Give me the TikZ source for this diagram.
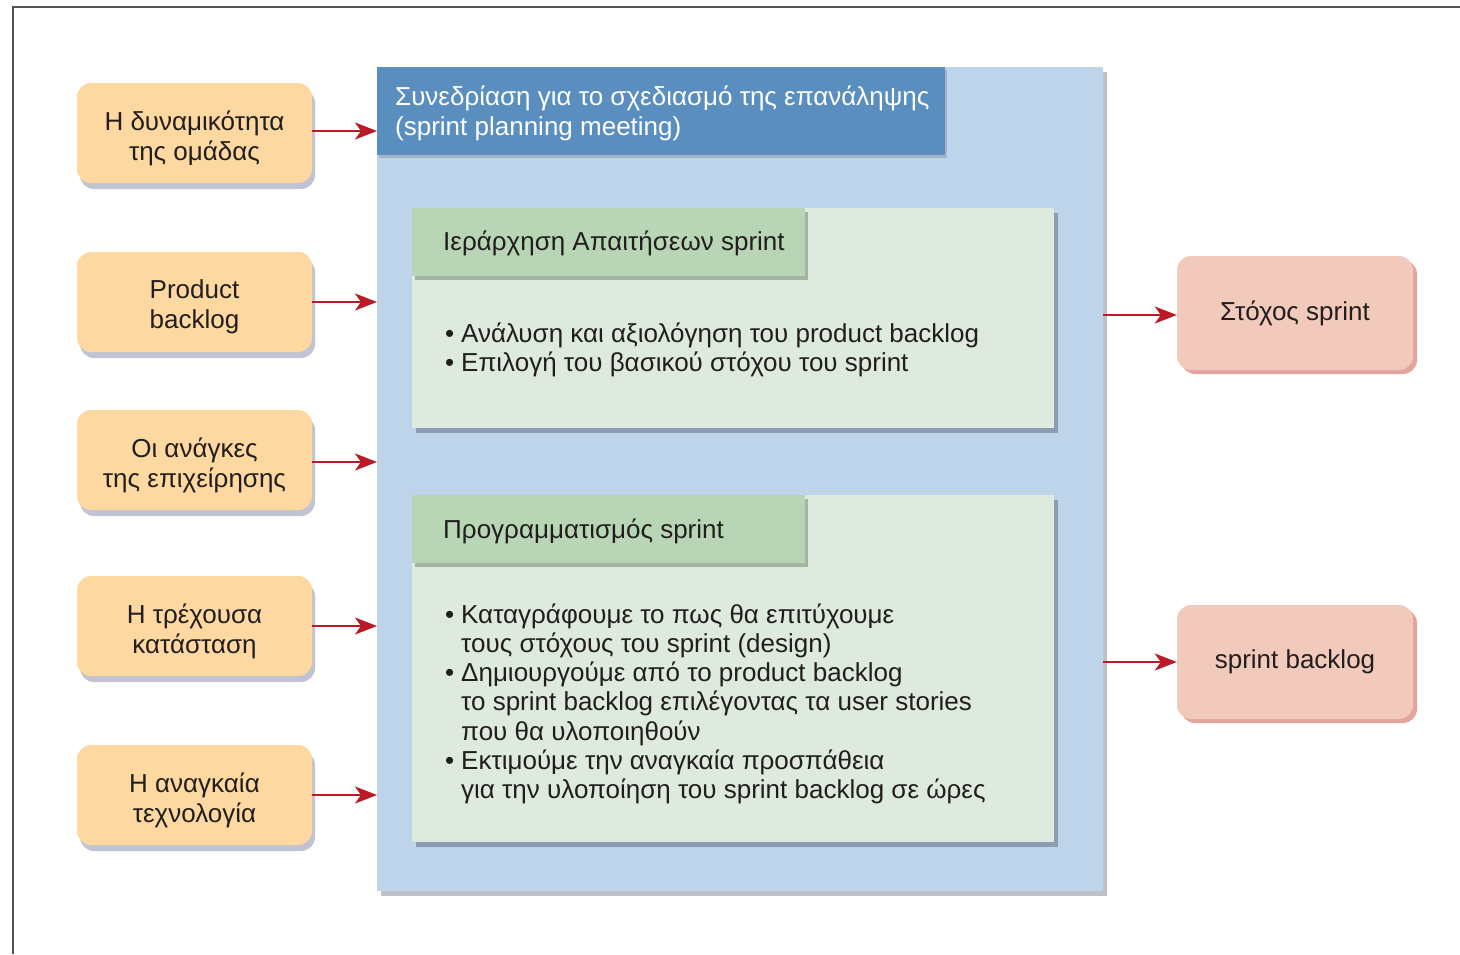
\documentclass[tikz,border=0pt]{standalone}
\usepackage{fontspec}
\setmainfont{Liberation Sans}
\usetikzlibrary{arrows.meta,shadows}

\definecolor{inbox}{RGB}{253,216,160}
\definecolor{inshadow}{RGB}{130,135,165}
\definecolor{panelblue}{RGB}{190,212,234}
\definecolor{panelshadow}{RGB}{110,118,132}
\definecolor{headblue}{RGB}{90,142,191}
\definecolor{stagegreen}{RGB}{221,234,221}
\definecolor{stageshadow}{RGB}{100,112,135}
\definecolor{tabgreen}{RGB}{184,214,181}
\definecolor{tabshadow}{RGB}{110,125,110}
\definecolor{outbox}{RGB}{242,202,188}
\definecolor{outshadow}{RGB}{205,90,78}
\definecolor{flowred}{RGB}{185,28,38}
\definecolor{txt}{RGB}{34,30,30}
\definecolor{framegray}{RGB}{85,85,85}

\tikzset{
  every node/.style={font=\fontsize{26}{30}\selectfont, text=txt},
  inputbox/.style={rectangle, rounded corners=14pt, fill=inbox,
    minimum width=235pt, minimum height=100pt, inner sep=0pt,
    drop shadow={shadow xshift=3pt, shadow yshift=-6pt, fill=inshadow, opacity=.5}},
  inlabel/.style={align=center, inner sep=0pt},
  outputbox/.style={rectangle, rounded corners=14pt, fill=outbox,
    minimum width=236pt, minimum height=114pt, align=center, inner sep=0pt,
    drop shadow={shadow xshift=4pt, shadow yshift=-4pt, fill=outshadow, opacity=.55}},
  panelbox/.style={rectangle, fill=panelblue, anchor=north west, inner sep=0pt,
    drop shadow={shadow xshift=4pt, shadow yshift=-5pt, fill=panelshadow, opacity=.45}},
  headbox/.style={rectangle, fill=headblue, anchor=north west, inner sep=0pt,
    minimum width=568pt, minimum height=88pt,
    drop shadow={shadow xshift=2pt, shadow yshift=-3pt, fill=panelshadow, opacity=.35}},
  stagebox/.style={rectangle, fill=stagegreen, anchor=north west, inner sep=0pt,
    minimum width=642pt,
    drop shadow={shadow xshift=4pt, shadow yshift=-5pt, fill=stageshadow, opacity=.55}},
  tabbox/.style={rectangle, fill=tabgreen, anchor=north west, inner sep=0pt,
    minimum width=393pt, minimum height=68pt,
    drop shadow={shadow xshift=3pt, shadow yshift=-4pt, fill=tabshadow, opacity=.5}},
  line/.style={anchor=base west, inner sep=0pt},
  flow/.style={draw=flowred, line width=2.8pt,
    -{Stealth[length=22pt, width=17pt, inset=6pt]}},
}

\newcommand{\bul}{\makebox[16pt][l]{•}}

\begin{document}
\begin{tikzpicture}[x=1pt, y=-1pt]
  \useasboundingbox (0,0) rectangle (1460,954);

  % page frame (top and left edges)
  \draw[framegray, line width=2.5pt] (13,954) -- (13,7) -- (1460,7);

  % meeting panel and its title bar
  \node[panelbox, minimum width=726pt, minimum height=824pt] (panel) at (377,67) {};
  \node[headbox] (head) at (377,67) {};
  \node[line, text=white] (h1) at (395,105) {Συνεδρίαση για το σχεδιασμό της επανάληψης};
  \node[line, text=white] (h2) at (395,135) {(sprint planning meeting)};

  % first stage
  \node[stagebox, minimum height=220pt] (s1) at (412,208) {};
  \node[tabbox] (t1) at (412,208) {};
  \node[line] (t1txt) at (443,250) {Ιεράρχηση Απαιτήσεων sprint};
  \node[line] (b11) at (445,342) {\bul Ανάλυση και αξιολόγηση του product backlog};
  \node[line] (b12) at (445,371) {\bul Επιλογή του βασικού στόχου του sprint};

  % second stage
  \node[stagebox, minimum height=347pt] (s2) at (412,495) {};
  \node[tabbox] (t2) at (412,495) {};
  \node[line] (t2txt) at (443,538) {Προγραμματισμός sprint};
  \node[line] (b21) at (445,623.0) {\bul Καταγράφουμε το πως θα επιτύχουμε};
  \node[line] (b22) at (461,652.3) {τους στόχους του sprint (design)};
  \node[line] (b23) at (445,681.6) {\bul Δημιουργούμε από το product backlog};
  \node[line] (b24) at (461,710.9) {το sprint backlog επιλέγοντας τα user stories};
  \node[line] (b25) at (461,740.2) {που θα υλοποιηθούν};
  \node[line] (b26) at (445,769.5) {\bul Εκτιμούμε την αναγκαία προσπάθεια};
  \node[line] (b27) at (461,798.8) {για την υλοποίηση του sprint backlog σε ώρες};

  % inputs
  \node[inputbox] (in1) at (194.5,133) {};
  \node[inputbox] (in2) at (194.5,302) {};
  \node[inputbox] (in3) at (194.5,460) {};
  \node[inputbox] (in4) at (194.5,626) {};
  \node[inputbox] (in5) at (194.5,795) {};
  \node[inlabel] (in1t) at ([yshift=-5pt]in1.center) {Η δυναμικότητα\\της ομάδας};
  \node[inlabel] (in2t) at ([yshift=-5pt]in2.center) {Product\\backlog};
  \node[inlabel] (in3t) at ([yshift=-5pt]in3.center) {Οι ανάγκες\\της επιχείρησης};
  \node[inlabel] (in4t) at ([yshift=-5pt]in4.center) {Η τρέχουσα\\κατάσταση};
  \node[inlabel] (in5t) at ([yshift=-5pt]in5.center) {Η αναγκαία\\τεχνολογία};

  % outputs
  \node[outputbox] (out1) at (1295,313) {Στόχος sprint};
  \node[outputbox] (out2) at (1295,662) {sprint backlog};

  % connectors
  \draw[flow] ([yshift=2pt]in1.east) -- ([yshift=2pt]in1.east -| panel.west);
  \draw[flow] (in2.east) -- (in2.east -| panel.west);
  \draw[flow] ([yshift=-2pt]in3.east) -- ([yshift=-2pt]in3.east -| panel.west);
  \draw[flow] (in4.east) -- (in4.east -| panel.west);
  \draw[flow] (in5.east) -- (in5.east -| panel.west);
  \draw[flow] ([yshift=-2pt]out1.west -| panel.east) -- ([yshift=-2pt]out1.west);
  \draw[flow] (out2.west -| panel.east) -- (out2.west);
\end{tikzpicture}
\end{document}
